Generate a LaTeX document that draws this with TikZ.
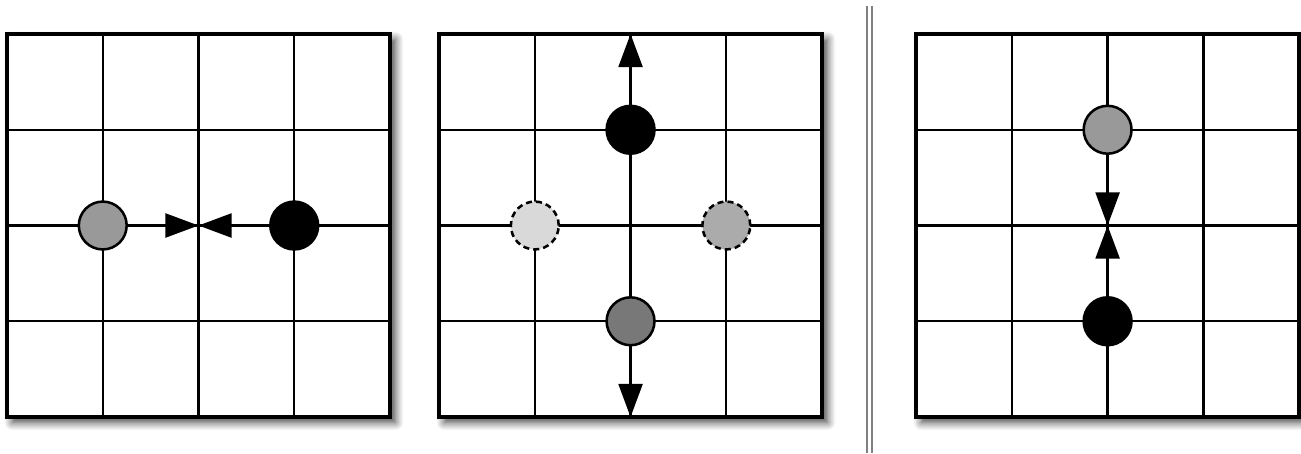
\documentclass[tikz,border=0pt]{standalone}
\usetikzlibrary{arrows.meta,shadows.blur}

\tikzset{
  board/.style={line width=1pt, fill=white,
    blur shadow={shadow xshift=1.6pt, shadow yshift=-1.6pt,
      shadow blur radius=2.4pt, shadow blur steps=8, shadow opacity=75}},
  gridline/.style={line width=0.7pt},
  stone/.style={circle, draw, line width=0.75pt, minimum size=0.5cm, inner sep=0pt},
  ghost/.style={stone, dash pattern=on 1.8pt off 1.2pt},
  move/.style={line width=0.7pt, draw=black,
    -{Triangle[length=0.345cm,width=0.25cm,fill=black]}},
}

\begin{document}
\begin{tikzpicture}[x=1cm,y=1cm]

    % Page frame
    \useasboundingbox (0,0) rectangle (13.587,4.731);

    % Left board: two stones heading for the same point
    \begin{scope}[shift={(0.073,0.376)}]
        \draw[board] (0,0) rectangle (4,4);
        \draw[gridline] (0,0) grid (4,4);
        \draw[line width=1pt] (0,0) rectangle (4,4);
        \node[stone, fill=black!40] (left) at (1,2) {};
        \node[stone, fill=black] (right) at (3,2) {};
        \coordinate (meet) at (2,2);
        \draw[move] (left) -- (meet);
        \draw[move] (right) -- (meet);
    \end{scope}

    % Middle board: stones pushed off the edge
    \begin{scope}[shift={(4.585,0.376)}]
        \draw[board] (0,0) rectangle (4,4);
        \draw[gridline] (0,0) grid (4,4);
        \draw[line width=1pt] (0,0) rectangle (4,4);
        \node[ghost, fill=black!15] (west) at (1,2) {};
        \node[ghost, fill=black!33] (east) at (3,2) {};
        \node[stone, fill=black] (top) at (2,3) {};
        \node[stone, fill=black!53] (bottom) at (2,1) {};
        \coordinate (north) at (2,4);
        \coordinate (south) at (2,0);
        \draw[move] (top) -- (north);
        \draw[move] (bottom) -- (south);
    \end{scope}

    % Separator (double rule)
    \draw[line width=0.6pt, black!50] (9.055,0) -- (9.055,4.668);
    \draw[line width=0.6pt, black!50] (9.107,0) -- (9.107,4.668);

    % Right board: vertical meeting
    \begin{scope}[shift={(9.567,0.376)}]
        \draw[board] (0,0) rectangle (4,4);
        \draw[gridline] (0,0) grid (4,4);
        \draw[line width=1pt] (0,0) rectangle (4,4);
        \node[stone, fill=black!40] (upper) at (2,3) {};
        \node[stone, fill=black] (lower) at (2,1) {};
        \coordinate (mid) at (2,2);
        \draw[move] (upper) -- (mid);
        \draw[move] (lower) -- (mid);
    \end{scope}

\end{tikzpicture}
\end{document}
